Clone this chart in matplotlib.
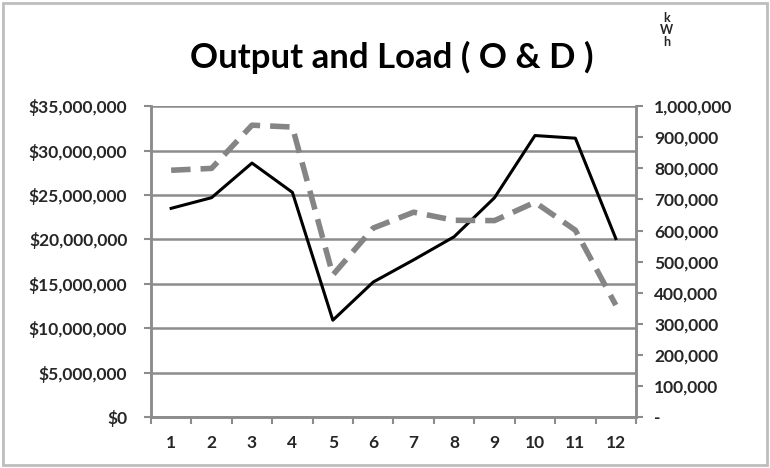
import matplotlib.pyplot as plt
from matplotlib.patches import Rectangle
from matplotlib.ticker import FuncFormatter, MultipleLocator, FixedLocator

plt.rcParams['font.family'] = ['Lato', 'DejaVu Sans']

months = [1, 2, 3, 4, 5, 6, 7, 8, 9, 10, 11, 12]
output_usd = [23.5e6, 24.7e6, 28.6e6, 25.3e6, 10.9e6, 15.2e6, 17.7e6, 20.3e6,
              24.7e6, 31.7e6, 31.4e6, 20.1e6]
load_kwh = [794e3, 800e3, 939e3, 933e3, 457e3, 608e3, 659e3, 633e3,
            632e3, 691e3, 601e3, 360e3]

title = 'Output and Load ( O & D )'
grid_c = '#8c8c8c'
text_c = '#262626'

fig = plt.figure(figsize=(7.7, 4.68), dpi=100)
fig.patches.append(Rectangle((0.004, 0.006), 0.992, 0.988, transform=fig.transFigure,
                             fill=False, edgecolor='#bdbdbd', lw=2))

ax = fig.add_axes([0.196, 0.109, 0.630, 0.664])
ax2 = ax.twinx()

# left axis: dollars
ax.set_ylim(0, 35e6)
ax.yaxis.set_major_locator(MultipleLocator(5e6))
ax.yaxis.set_major_formatter(FuncFormatter(lambda v, p: f'${v:,.0f}'))
ax.set_xlim(0.5, 12.5)
ax.set_xticks(months)
ax.set_xticks([m + 0.5 for m in range(0, 13)], minor=True)
ax.tick_params(axis='x', which='major', length=0, pad=13)
ax.tick_params(axis='x', which='minor', length=5, color=grid_c, width=1.5, direction='out')
ax.tick_params(axis='y', length=5, color=grid_c, width=1.5, pad=12)
ax.grid(axis='y', color=grid_c, lw=1.8)
ax.set_axisbelow(True)

# right axis: kWh
ax2.set_ylim(0, 1e6)
ax2.yaxis.set_major_locator(FixedLocator([i * 1e5 for i in range(11)]))
ax2.yaxis.set_major_formatter(FuncFormatter(lambda v, p: '-' if v == 0 else f'{v:,.0f}'))
ax2.tick_params(axis='y', length=5, color=grid_c, width=1.5, pad=8)

for a in (ax, ax2):
    for s in a.spines.values():
        s.set_visible(False)
    for side in ('left', 'bottom', 'right'):
        a.spines[side].set_visible(True)
        a.spines[side].set_color(grid_c)
        a.spines[side].set_linewidth(1.8)
    for lab in a.get_xticklabels() + a.get_yticklabels():
        lab.set_fontsize(12.5)
        lab.set_fontweight('bold')
        lab.set_color(text_c)

ax.plot(months, output_usd, color='black', lw=2.2, zorder=3)
ax2.plot(months, load_kwh, color='#858585', lw=4, ls=(0, (3.5, 1.8)), zorder=2)

fig.text(0.509, 0.878, title, ha='center', va='center', fontsize=25,
         fontweight='bold', color='black')
fig.text(0.866, 0.935, 'k\nW\nh', ha='center', va='center', fontsize=9,
         fontweight='bold', color=text_c, linespacing=1.0)

fig.savefig('out.png', dpi=100)
